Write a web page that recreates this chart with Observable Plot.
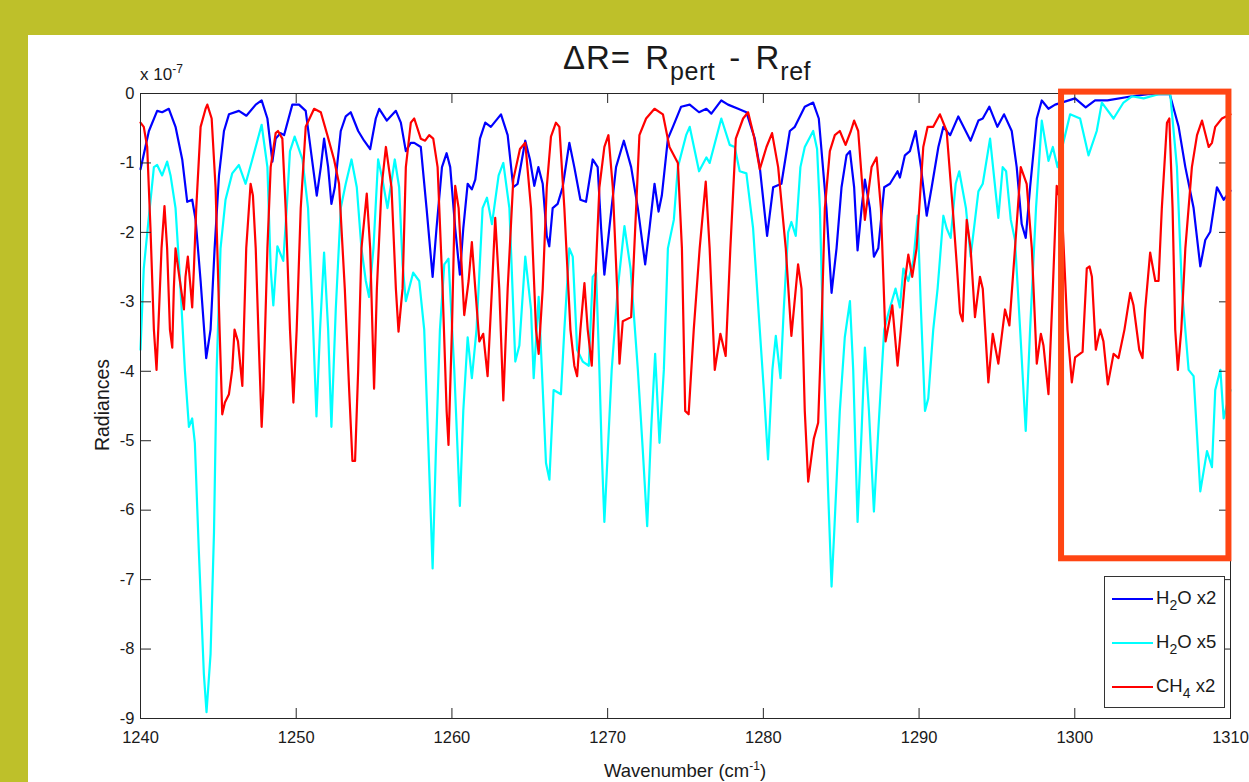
<!DOCTYPE html>
<html><head><meta charset="utf-8">
<script src="https://cdn.jsdelivr.net/npm/d3@7"></script>
<script src="https://cdn.jsdelivr.net/npm/@observablehq/plot@0.6"></script>
<style>
html,body{margin:0;padding:0;}
body{width:1249px;height:782px;background:#BEC02A;position:relative;overflow:hidden;font-family:"Liberation Sans",Arial,Helvetica,sans-serif;color:#1a1a1a;}
#panel{position:absolute;left:28px;top:35px;width:1221px;height:747px;background:#fff;}
#chart{position:absolute;left:0;top:0;}
.sub{position:relative;top:0.42em;}
.sup{position:relative;top:-0.55em;}
#title{position:absolute;left:140px;width:1094px;top:41px;text-align:center;font-size:33px;line-height:33px;letter-spacing:1px;word-spacing:4px;white-space:nowrap;}
#title .sub{font-size:25px;letter-spacing:0.5px;}
#exp{position:absolute;left:140px;top:66px;font-size:17px;line-height:17px;white-space:nowrap;}
#exp .sup{font-size:12px;}
#ylab{position:absolute;left:103px;top:405px;font-size:19.5px;line-height:19.5px;white-space:nowrap;transform:translate(-50%,-50%) rotate(-90deg);}
#xlab{position:absolute;left:140px;width:1090px;top:762px;text-align:center;font-size:18.5px;line-height:18.5px;white-space:nowrap;}
#xlab .sup{font-size:12px;}
#legend{position:absolute;left:1104px;top:576px;width:121px;height:132px;border:1px solid #333;background:#fff;box-sizing:border-box;}
.item{position:absolute;left:0;height:0;}
.item .ln{position:absolute;left:7px;width:41px;height:2px;top:-1px;}
.item .tx{position:absolute;left:51px;top:-12px;font-size:18.5px;line-height:21px;white-space:nowrap;}
.item .tx .sub{font-size:14px;}
</style>
</head><body>
<div id="panel"></div>
<div id="chart"></div>
<div id="title">&Delta;R= R<span class="sub">pert</span> - R<span class="sub">ref</span></div>
<div id="exp">x 10<span class="sup">-7</span></div>
<div id="ylab">Radiances</div>
<div id="xlab">Wavenumber (cm<span class="sup">-1</span>)</div>
<div id="legend"></div>
<script>
// ---- data (wavenumber in cm^-1, radiance difference in units of 1e-7) ----
const xTicks = [1240, 1250, 1260, 1270, 1280, 1290, 1300, 1310];
const yTicks = [0, -1, -2, -3, -4, -5, -6, -7, -8, -9];

const seriesNames = ["H2O x2", "H2O x5", "CH4 x2"];
const seriesColors = ["#0000FF", "#00FFFF", "#FF0000"];

const wnH2Ox2 = [1240.0,1240.54,1241.07,1241.39,1241.82,1242.25,1242.68,1243.0,1243.32,1243.54,1243.86,1244.22,1244.5,1244.76,1245.04,1245.36,1245.68,1246.32,1246.8,1247.4,1247.78,1248.15,1248.47,1248.68,1249.0,1249.22,1249.75,1250.18,1250.61,1250.98,1251.32,1251.58,1251.79,1252.05,1252.26,1252.48,1252.86,1253.18,1253.5,1253.98,1254.36,1254.75,1255.11,1255.33,1255.82,1256.4,1256.72,1257.04,1257.36,1257.58,1258.0,1258.37,1258.76,1259.01,1259.36,1259.66,1259.89,1260.21,1260.51,1260.73,1261.01,1261.28,1261.5,1261.8,1262.14,1262.5,1263.15,1263.58,1263.94,1264.22,1264.71,1265.01,1265.29,1265.55,1265.83,1266.09,1266.25,1266.47,1266.79,1267.11,1267.54,1267.86,1268.25,1268.61,1269.04,1269.36,1269.58,1269.79,1270.11,1270.54,1271.04,1271.51,1271.94,1272.41,1272.69,1273.01,1273.27,1273.48,1273.87,1274.19,1274.72,1275.27,1275.87,1276.34,1276.66,1277.3,1277.73,1278.38,1278.91,1279.45,1279.77,1280.24,1280.63,1281.16,1281.7,1282.02,1282.66,1283.2,1283.56,1284.05,1284.38,1284.7,1285.02,1285.34,1285.56,1285.83,1286.05,1286.31,1286.52,1286.84,1287.1,1287.38,1287.76,1288.13,1288.62,1288.77,1289.09,1289.41,1289.78,1290.12,1290.49,1290.81,1291.24,1291.56,1291.88,1292.0,1292.52,1293.31,1293.81,1294.09,1294.51,1295.03,1295.46,1295.95,1296.27,1296.59,1296.85,1297.13,1297.56,1297.88,1298.31,1298.74,1300.02,1300.7,1301.3,1302.1,1303.67,1304.7,1306.1,1306.67,1307.1,1307.63,1308.06,1308.38,1308.7,1309.13,1309.56,1310.0];
const radH2Ox2 = [-1.09,-0.54,-0.25,-0.27,-0.22,-0.48,-0.95,-1.56,-1.53,-1.82,-2.70,-3.81,-3.40,-2.23,-1.18,-0.54,-0.30,-0.25,-0.32,-0.16,-0.10,-0.36,-0.98,-0.65,-0.57,-0.60,-0.16,-0.16,-0.25,-0.89,-1.47,-1.06,-0.65,-1.06,-1.59,-1.35,-0.54,-0.33,-0.27,-0.54,-0.68,-0.80,-0.36,-0.22,-0.39,-0.25,-0.42,-0.83,-0.71,-0.71,-0.77,-1.65,-2.64,-1.94,-1.06,-0.86,-1.06,-1.94,-2.61,-1.94,-1.30,-1.38,-1.24,-0.65,-0.42,-0.48,-0.30,-0.60,-1.35,-1.30,-0.68,-0.95,-1.33,-1.06,-1.30,-2.05,-2.20,-1.65,-1.59,-1.35,-0.71,-1.06,-1.53,-1.56,-0.95,-1.06,-1.94,-2.61,-1.94,-1.06,-0.68,-1.06,-1.65,-2.46,-1.94,-1.30,-1.70,-1.47,-0.65,-0.48,-0.19,-0.16,-0.27,-0.22,-0.29,-0.10,-0.16,-0.22,-0.27,-0.65,-1.06,-2.05,-1.35,-1.30,-0.54,-0.48,-0.19,-0.13,-0.36,-1.65,-2.87,-2.23,-1.35,-0.89,-0.83,-1.35,-2.26,-1.65,-1.24,-1.65,-2.35,-2.23,-1.35,-1.30,-1.12,-1.21,-0.89,-0.83,-0.54,-1.06,-1.76,-1.35,-0.77,-0.48,-0.57,-0.60,-0.33,-0.68,-0.39,-0.36,-0.19,-0.48,-0.30,-0.54,-1.06,-1.88,-2.08,-1.35,-0.36,-0.10,-0.22,-0.16,-0.07,-0.20,-0.10,-0.10,-0.04,-0.01,-0.01,-0.48,-1.06,-1.65,-2.49,-2.11,-1.99,-1.35,-1.53,-1.40];

const wnH2Ox5 = [1240.0,1240.21,1240.49,1240.86,1241.07,1241.39,1241.71,1241.93,1242.25,1242.57,1242.85,1243.11,1243.32,1243.49,1243.75,1244.07,1244.24,1244.5,1244.72,1244.89,1245.14,1245.46,1245.89,1246.32,1246.75,1247.18,1247.78,1248.15,1248.36,1248.53,1248.79,1249.17,1249.39,1249.6,1249.9,1250.4,1250.76,1251.04,1251.3,1251.53,1251.79,1252.05,1252.26,1252.54,1252.86,1253.18,1253.55,1253.89,1254.19,1254.47,1254.68,1254.96,1255.26,1255.54,1255.86,1256.33,1256.61,1256.83,1257.04,1257.51,1257.9,1258.22,1258.5,1258.76,1258.97,1259.23,1259.51,1259.78,1260.15,1260.51,1260.73,1261.01,1261.28,1261.58,1261.97,1262.25,1262.57,1263.0,1263.3,1263.69,1264.07,1264.33,1264.71,1265.08,1265.25,1265.57,1265.9,1266.04,1266.26,1266.53,1267.0,1267.22,1267.54,1267.76,1268.04,1268.4,1268.79,1269.04,1269.26,1269.47,1269.62,1269.79,1270.01,1270.26,1270.65,1271.08,1271.47,1271.94,1272.26,1272.54,1272.79,1273.05,1273.33,1273.61,1273.87,1274.25,1274.51,1275.04,1275.27,1275.87,1276.34,1276.55,1277.3,1277.84,1278.16,1278.48,1278.91,1279.34,1279.77,1280.03,1280.3,1280.58,1280.8,1281.1,1281.31,1281.59,1281.8,1282.08,1282.38,1282.66,1283.2,1283.45,1283.63,1283.9,1284.16,1284.38,1284.55,1284.91,1285.23,1285.56,1285.77,1286.05,1286.31,1286.52,1286.78,1287.1,1287.38,1287.76,1288.06,1288.49,1288.77,1288.99,1289.31,1289.63,1289.91,1290.12,1290.38,1290.59,1290.91,1291.19,1291.56,1291.77,1292.03,1292.35,1292.58,1293.01,1293.31,1293.81,1294.09,1294.56,1295.09,1295.37,1295.59,1295.89,1296.16,1296.49,1296.85,1297.13,1297.51,1297.88,1298.31,1298.59,1298.89,1299.7,1300.34,1300.88,1301.41,1301.74,1302.49,1303.13,1303.67,1304.42,1305.38,1306.13,1306.56,1306.88,1307.31,1307.63,1308.06,1308.49,1308.81,1309.02,1309.35,1309.56,1310.0];
const radH2Ox5 = [-3.69,-2.52,-1.88,-1.06,-1.03,-1.18,-0.98,-1.18,-1.65,-2.81,-3.98,-4.80,-4.68,-5.03,-6.61,-8.36,-8.91,-8.07,-6.32,-3.98,-2.23,-1.53,-1.15,-1.03,-1.30,-0.95,-0.45,-1.06,-2.52,-3.05,-2.20,-2.41,-1.65,-0.83,-0.62,-0.95,-1.65,-3.11,-4.65,-3.40,-2.29,-3.40,-4.80,-3.11,-1.65,-1.30,-0.95,-1.35,-2.23,-2.70,-2.93,-2.23,-0.95,-1.24,-1.65,-0.95,-1.35,-2.46,-2.99,-2.58,-2.70,-3.40,-5.15,-6.84,-5.15,-3.40,-2.46,-2.38,-3.98,-5.94,-4.57,-3.51,-4.10,-3.40,-1.65,-1.50,-1.88,-1.18,-1.00,-1.65,-3.86,-3.63,-2.35,-3.11,-4.10,-2.93,-4.60,-5.32,-5.56,-4.27,-4.33,-3.40,-2.23,-2.35,-3.69,-3.86,-3.92,-2.64,-2.58,-3.98,-5.15,-6.17,-5.15,-3.98,-2.81,-1.91,-2.52,-3.98,-5.15,-6.23,-4.86,-3.75,-5.03,-3.98,-2.23,-1.82,-1.06,-0.60,-0.48,-1.12,-0.92,-1.00,-0.36,-0.74,-0.77,-1.12,-1.15,-1.94,-3.40,-4.27,-5.27,-3.98,-3.49,-4.10,-3.11,-2.00,-1.85,-2.05,-1.06,-0.77,-0.54,-0.80,-1.65,-3.98,-5.73,-7.10,-6.32,-4.57,-3.51,-2.99,-3.98,-6.17,-4.86,-3.66,-4.57,-6.02,-4.86,-3.40,-3.14,-2.81,-3.08,-2.52,-2.70,-2.41,-1.76,-3.11,-4.57,-4.39,-3.40,-2.81,-1.76,-1.94,-2.08,-1.30,-1.12,-1.65,-2.35,-1.41,-1.30,-0.65,-1.79,-1.06,-1.12,-1.82,-2.11,-3.40,-4.86,-3.40,-1.65,-0.39,-0.97,-0.77,-1.06,-0.30,-0.36,-0.89,-0.54,-0.13,-0.36,-0.13,-0.04,-0.07,-0.01,-0.01,-1.06,-2.81,-3.98,-4.07,-5.73,-5.15,-5.38,-4.27,-3.98,-4.68,-4.27];

const wnCH4x2 = [1240.0,1240.21,1240.43,1240.64,1240.86,1241.03,1241.14,1241.35,1241.54,1241.71,1241.89,1242.04,1242.14,1242.25,1242.42,1242.64,1242.79,1242.89,1243.04,1243.22,1243.32,1243.43,1243.58,1243.86,1244.18,1244.29,1244.57,1244.82,1245.08,1245.25,1245.42,1245.68,1245.89,1246.04,1246.26,1246.54,1246.64,1246.79,1247.07,1247.22,1247.4,1247.61,1247.78,1247.89,1248.15,1248.36,1248.68,1248.83,1249.11,1249.32,1249.6,1249.82,1250.03,1250.29,1250.61,1251.15,1251.58,1252.0,1252.43,1252.75,1253.12,1253.4,1253.61,1253.78,1253.98,1254.19,1254.53,1254.75,1255.0,1255.18,1255.48,1255.76,1256.12,1256.4,1256.57,1256.83,1257.04,1257.36,1257.58,1258.0,1258.28,1258.54,1258.8,1259.08,1259.4,1259.66,1259.78,1260.0,1260.21,1260.43,1260.79,1261.07,1261.28,1261.5,1261.76,1262.01,1262.29,1262.57,1262.78,1263.04,1263.3,1263.58,1263.94,1264.37,1264.71,1265.08,1265.4,1265.57,1265.83,1266.09,1266.36,1266.68,1266.9,1267.22,1267.61,1267.86,1268.04,1268.25,1268.51,1268.72,1268.98,1269.19,1269.47,1269.79,1270.05,1270.33,1270.61,1270.76,1270.97,1271.51,1271.83,1272.04,1272.47,1273.01,1273.55,1273.97,1274.25,1274.51,1274.77,1274.98,1275.2,1275.53,1275.91,1276.3,1276.55,1276.88,1277.24,1277.58,1277.88,1278.23,1278.7,1279.02,1279.38,1279.77,1280.2,1280.56,1280.95,1281.44,1281.8,1282.23,1282.45,1282.66,1282.88,1283.24,1283.52,1283.73,1283.95,1284.27,1284.59,1284.91,1285.28,1285.62,1285.83,1286.09,1286.52,1286.95,1287.27,1287.55,1287.85,1288.28,1288.62,1288.83,1289.09,1289.31,1289.56,1289.84,1290.27,1290.55,1290.91,1291.34,1291.77,1292.16,1292.42,1292.63,1292.8,1293.06,1293.31,1293.59,1293.91,1294.09,1294.45,1294.73,1295.09,1295.52,1295.8,1296.16,1296.53,1296.91,1297.24,1297.56,1297.82,1297.99,1298.31,1298.59,1298.84,1299.17,1299.53,1299.81,1300.02,1300.5,1300.77,1300.95,1301.1,1301.35,1301.63,1301.84,1302.12,1302.49,1302.81,1303.19,1303.56,1303.77,1304.14,1304.35,1304.52,1304.84,1305.17,1305.38,1305.59,1305.92,1306.07,1306.28,1306.45,1306.62,1306.84,1307.1,1307.52,1307.85,1308.17,1308.6,1308.81,1309.02,1309.45,1310.0];
const radCH4x2 = [-0.42,-0.48,-0.77,-1.94,-3.40,-3.98,-3.40,-2.23,-1.62,-2.23,-3.40,-3.66,-2.81,-2.23,-2.52,-2.87,-3.11,-2.64,-2.35,-2.81,-3.08,-2.52,-1.65,-0.48,-0.22,-0.16,-0.36,-1.35,-3.40,-4.62,-4.45,-4.33,-3.98,-3.40,-3.57,-4.21,-3.40,-2.23,-1.30,-1.47,-2.23,-3.69,-4.80,-4.27,-2.23,-1.06,-0.57,-0.54,-0.65,-1.65,-3.40,-4.45,-3.40,-1.65,-0.48,-0.22,-0.27,-0.60,-0.95,-1.30,-2.81,-4.27,-5.29,-5.29,-3.98,-2.23,-1.44,-2.23,-4.25,-2.81,-1.35,-0.77,-1.35,-2.81,-3.43,-2.81,-1.06,-0.42,-0.36,-0.65,-0.68,-0.60,-0.65,-1.06,-2.81,-4.57,-5.06,-3.40,-1.33,-1.65,-3.19,-2.70,-2.14,-2.81,-3.57,-3.46,-4.07,-2.81,-1.79,-2.81,-4.42,-2.81,-1.24,-0.80,-0.71,-1.65,-3.40,-3.75,-2.81,-1.35,-0.62,-0.42,-0.48,-1.65,-3.40,-3.92,-4.07,-3.40,-2.73,-3.40,-3.92,-2.81,-1.35,-0.77,-0.60,-1.35,-2.81,-3.89,-3.28,-3.22,-1.65,-0.60,-0.36,-0.22,-0.30,-0.77,-0.89,-1.00,-2.23,-4.57,-4.62,-3.40,-2.23,-1.27,-2.23,-3.98,-3.46,-3.78,-2.23,-0.65,-0.36,-0.27,-0.60,-1.09,-0.77,-0.57,-1.06,-2.23,-3.49,-2.46,-2.81,-4.57,-5.59,-4.97,-4.74,-3.40,-1.65,-0.83,-0.60,-0.54,-0.74,-0.54,-0.39,-0.54,-1.82,-1.06,-0.92,-1.65,-3.57,-3.05,-3.92,-3.40,-2.70,-2.32,-2.64,-2.23,-0.77,-0.48,-0.48,-0.30,-0.54,-1.65,-2.46,-3.16,-3.28,-1.82,-2.23,-3.22,-2.64,-2.81,-4.16,-3.46,-3.89,-3.11,-3.34,-2.23,-1.06,-1.30,-2.23,-3.89,-3.46,-3.63,-4.33,-2.81,-1.33,-1.65,-3.40,-4.16,-3.80,-3.72,-2.52,-2.49,-2.64,-3.69,-3.40,-3.57,-4.19,-3.75,-3.81,-3.40,-2.87,-3.05,-3.69,-3.81,-3.11,-2.29,-2.70,-2.70,-1.65,-0.42,-0.36,-1.65,-3.40,-3.98,-3.40,-2.23,-1.06,-0.60,-0.39,-0.77,-0.71,-0.48,-0.36,-0.30];

// highlighted region (orange box), in data units
const boxWavenumber = [1299.15, 1309.9];
const boxRadiance = [-6.70, 0.02];

// ---- build ----
const W = 1249, H = 782;
const mL = 140, mR = 19, mT = 93, mB = 64;
const pw = W - mL - mR, ph = H - mT - mB;
const rows = (xs, ys) => xs.map((x, i) => ({x, y: ys[i]}));
const series = [rows(wnH2Ox2, radH2Ox2), rows(wnH2Ox5, radH2Ox5), rows(wnCH4x2, radCH4x2)];
const box = [{x1: boxWavenumber[0], x2: boxWavenumber[1], y1: boxRadiance[0], y2: boxRadiance[1]}];
const axisColor = "#262626";

const chart = Plot.plot({
  width: W, height: H,
  marginLeft: mL, marginRight: mR, marginTop: mT, marginBottom: mB,
  x: {domain: [1240, 1310]},
  y: {domain: [-9, 0]},
  style: {fontFamily: "'Liberation Sans', Arial, Helvetica, sans-serif", background: "transparent", color: "#1a1a1a", overflow: "visible"},
  marks: [
    ...series.map((d, i) => Plot.line(d, {x: "x", y: "y", stroke: seriesColors[i], strokeWidth: 2.2, curve: "linear"})),
    Plot.frame({stroke: axisColor, strokeWidth: 1}),
    Plot.tickX(xTicks, {x: d => d, insetTop: ph - 10, stroke: axisColor}),
    Plot.tickX(xTicks, {x: d => d, insetBottom: ph - 10, stroke: axisColor}),
    Plot.tickY(yTicks, {y: d => d, insetRight: pw - 11, stroke: axisColor}),
    Plot.tickY(yTicks, {y: d => d, insetLeft: pw - 11, stroke: axisColor}),
    Plot.axisX({ticks: xTicks, tickSize: 0, tickPadding: 13, fontSize: 16.5, tickFormat: d => String(d), label: null}),
    Plot.axisY({ticks: yTicks, tickSize: 0, tickPadding: 6, fontSize: 16.5, tickFormat: d => String(d), label: null}),
    Plot.rect(box, {x1: "x1", x2: "x2", y1: "y1", y2: "y2", fill: "none", stroke: "#FF4513", strokeWidth: 6})
  ]
});
document.getElementById("chart").appendChild(chart);

// legend
const legend = document.getElementById("legend");
const legendTop = [22, 66, 110];
const labelsHTML = ["H<span class='sub'>2</span>O x2", "H<span class='sub'>2</span>O x5", "CH<span class='sub'>4</span> x2"];
seriesNames.forEach((name, i) => {
  const it = document.createElement("div");
  it.className = "item";
  it.style.top = legendTop[i] + "px";
  it.innerHTML = `<div class="ln" style="background:${seriesColors[i]}"></div><div class="tx">${labelsHTML[i]}</div>`;
  legend.appendChild(it);
});
</script>
</body></html>
